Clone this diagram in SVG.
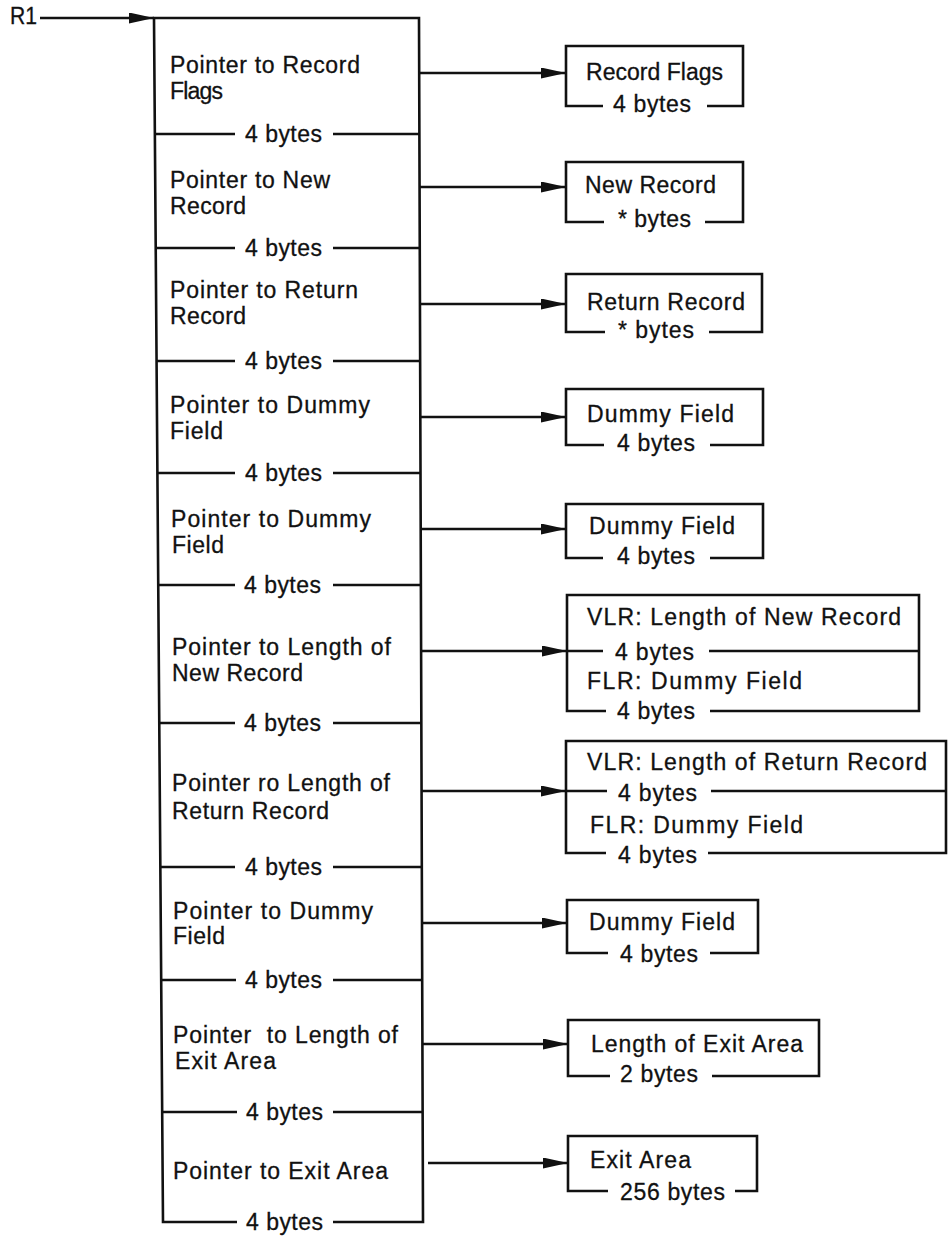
<svg xmlns="http://www.w3.org/2000/svg" width="948" height="1236" viewBox="0 0 948 1236">
<style>
  text { font-family: "Liberation Sans", Arial, sans-serif; font-size: 23px; fill: #111; stroke: #111; stroke-width: 0.3px; }
  .box { fill: none; stroke: #111; stroke-width: 2.6; stroke-linejoin: miter; }
  .div { fill: none; stroke: #111; stroke-width: 2.3; }
  .conn { fill: none; stroke: #111; stroke-width: 2.4; }
</style>
<defs>
  <marker id="ah" markerUnits="userSpaceOnUse" markerWidth="25" markerHeight="11" refX="25" refY="5.5" orient="auto">
    <path d="M0,0 L25,5.5 L0,11 Z" fill="#111"/>
  </marker>
</defs>
<rect width="948" height="1236" fill="#fff"/>

<g id="r1">
  <text x="10" y="24" textLength="27" lengthAdjust="spacingAndGlyphs">R1</text>
</g>

<g id="parameter-list">
  <path class="box" d="M237,1222 L163,1222 L154,18 L419,18 L423,1222 L333,1222"/>
  <g id="row1">
    <text x="170" y="73" textLength="190">Pointer to Record</text>
    <text x="170" y="99" textLength="53">Flags</text>
    <path class="div" d="M155,134 H235 M333,134 H419"/>
    <text x="245" y="142" textLength="77">4 bytes</text>
  </g>
  <g id="row2">
    <text x="170" y="188" textLength="160">Pointer to New</text>
    <text x="170" y="214" textLength="76">Record</text>
    <path class="div" d="M156,248 H235 M333,248 H420"/>
    <text x="245" y="256" textLength="77">4 bytes</text>
  </g>
  <g id="row3">
    <text x="170" y="298" textLength="188">Pointer to Return</text>
    <text x="170" y="324" textLength="76">Record</text>
    <path class="div" d="M157,361 H235 M333,361 H420"/>
    <text x="245" y="369" textLength="77">4 bytes</text>
  </g>
  <g id="row4">
    <text x="170" y="413" textLength="200">Pointer to Dummy</text>
    <text x="170" y="439" textLength="53">Field</text>
    <path class="div" d="M157,473 H235 M333,473 H421"/>
    <text x="245" y="481" textLength="77">4 bytes</text>
  </g>
  <g id="row5">
    <text x="171" y="527" textLength="200">Pointer to Dummy</text>
    <text x="172" y="553" textLength="52">Field</text>
    <path class="div" d="M158,585 H235 M333,585 H421"/>
    <text x="244" y="593" textLength="77">4 bytes</text>
  </g>
  <g id="row6">
    <text x="172" y="655" textLength="219">Pointer to Length of</text>
    <text x="172" y="681" textLength="131">New Record</text>
    <path class="div" d="M159,723 H235 M333,723 H421"/>
    <text x="244" y="731" textLength="77">4 bytes</text>
  </g>
  <g id="row7">
    <text x="172" y="791" textLength="218">Pointer ro Length of</text>
    <text x="172" y="819" textLength="157">Return Record</text>
    <path class="div" d="M160,867 H235 M333,867 H422"/>
    <text x="245" y="875" textLength="77">4 bytes</text>
  </g>
  <g id="row8">
    <text x="173" y="919" textLength="200">Pointer to Dummy</text>
    <text x="173" y="944" textLength="52">Field</text>
    <path class="div" d="M161,980 H236 M333,980 H422"/>
    <text x="245" y="988" textLength="77">4 bytes</text>
  </g>
  <g id="row9">
    <text x="173" y="1043" textLength="225" xml:space="preserve">Pointer  to Length of</text>
    <text x="175" y="1069" textLength="101">Exit Area</text>
    <path class="div" d="M162,1112 H237 M333,1112 H423"/>
    <text x="246" y="1120" textLength="77">4 bytes</text>
  </g>
  <g id="row10">
    <text x="173" y="1179" textLength="215">Pointer to Exit Area</text>
    <text x="246" y="1230" textLength="77">4 bytes</text>
  </g>
</g>

<g id="record-flags">
  <path class="box" d="M603,106 H566 V46 H743 V106 H707"/>
  <text x="586" y="80" textLength="137">Record Flags</text>
  <text x="613" y="112" textLength="78">4 bytes</text>
</g>
<g id="new-record">
  <path class="box" d="M604,222 H566 V162 H743 V222 H705"/>
  <text x="585" y="193" textLength="131">New Record</text>
  <text x="618" y="227" textLength="73">* bytes</text>
</g>
<g id="return-record">
  <path class="box" d="M605,332 H566 V274 H762 V332 H709"/>
  <text x="587" y="310" textLength="158">Return Record</text>
  <text x="618" y="338" textLength="76">* bytes</text>
</g>
<g id="dummy-field-1">
  <path class="box" d="M604,445 H566 V389 H763 V445 H710"/>
  <text x="587" y="422" textLength="147">Dummy Field</text>
  <text x="617" y="451" textLength="78">4 bytes</text>
</g>
<g id="dummy-field-2">
  <path class="box" d="M603,558 H566 V504 H763 V558 H710"/>
  <text x="589" y="534" textLength="146">Dummy Field</text>
  <text x="617" y="564" textLength="78">4 bytes</text>
</g>
<g id="length-new-record">
  <path class="box" d="M606,711 H567 V595 H919 V711 H710"/>
  <path class="div" d="M567,651 H603 M709,651 H919"/>
  <text x="587" y="625" textLength="314">VLR: Length of New Record</text>
  <text x="615" y="660" textLength="79">4 bytes</text>
  <text x="587" y="689" textLength="215">FLR: Dummy Field</text>
  <text x="617" y="719" textLength="78">4 bytes</text>
</g>
<g id="length-return-record">
  <path class="box" d="M606,853 H566 V741 H946 V853 H708"/>
  <path class="div" d="M566,791 H607 M711,791 H946"/>
  <text x="587" y="770" textLength="340">VLR: Length of Return Record</text>
  <text x="618" y="801" textLength="79">4 bytes</text>
  <text x="590" y="833" textLength="213">FLR: Dummy Field</text>
  <text x="618" y="863" textLength="79">4 bytes</text>
</g>
<g id="dummy-field-3">
  <path class="box" d="M608,953 H567 V900 H758 V953 H710"/>
  <text x="589" y="930" textLength="146">Dummy Field</text>
  <text x="620" y="962" textLength="78">4 bytes</text>
</g>
<g id="length-exit-area">
  <path class="box" d="M610,1076 H568 V1020 H819 V1076 H712"/>
  <text x="591" y="1052" textLength="212">Length of Exit Area</text>
  <text x="620" y="1082" textLength="78">2 bytes</text>
</g>
<g id="exit-area">
  <path class="box" d="M608,1191 H568 V1136 H757 V1191 H735"/>
  <text x="590" y="1168" textLength="101">Exit Area</text>
  <text x="620" y="1200" textLength="105">256 bytes</text>
</g>

<g id="connectors">
  <line class="conn" x1="40" y1="18" x2="154" y2="18" marker-end="url(#ah)"/>
  <line class="conn" x1="419" y1="73" x2="566" y2="73" marker-end="url(#ah)"/>
  <line class="conn" x1="420" y1="187" x2="566" y2="187" marker-end="url(#ah)"/>
  <line class="conn" x1="420" y1="304" x2="566" y2="304" marker-end="url(#ah)"/>
  <line class="conn" x1="420" y1="417" x2="566" y2="417" marker-end="url(#ah)"/>
  <line class="conn" x1="421" y1="529" x2="566" y2="529" marker-end="url(#ah)"/>
  <line class="conn" x1="421" y1="651" x2="567" y2="651" marker-end="url(#ah)"/>
  <line class="conn" x1="422" y1="791" x2="566" y2="791" marker-end="url(#ah)"/>
  <line class="conn" x1="422" y1="923" x2="567" y2="923" marker-end="url(#ah)"/>
  <line class="conn" x1="423" y1="1044" x2="568" y2="1044" marker-end="url(#ah)"/>
  <line class="conn" x1="428" y1="1163" x2="568" y2="1163" marker-end="url(#ah)"/>
</g>
</svg>
